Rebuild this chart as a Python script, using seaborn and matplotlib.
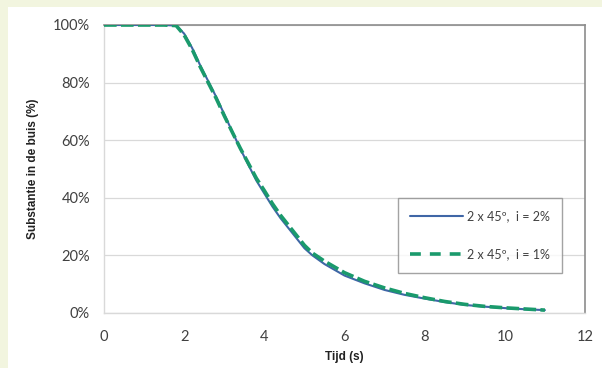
import matplotlib
matplotlib.use("Agg")
import matplotlib.pyplot as plt
import matplotlib.patches as mpatches
from matplotlib.ticker import FuncFormatter
import seaborn as sns
import pandas as pd

# ---- data ----
time_s = [0, 0.5, 1.0, 1.5, 1.8, 2.0, 2.2, 2.4, 2.6, 2.8, 3.0, 3.2, 3.4, 3.6, 3.8,
          4.0, 4.2, 4.4, 4.6, 4.8, 5.0, 5.2, 5.5, 6.0, 6.5, 7.0, 7.5, 8.0, 8.5,
          9.0, 9.5, 10.0, 10.5, 11.0]
subst_i2 = [100, 100, 100, 100, 99.8, 97, 92, 86, 80.5, 75, 69, 63, 57, 51.5, 46,
            41.5, 37, 33, 29.5, 26, 22.5, 20, 17, 13, 10.3, 8, 6.3, 5, 3.8,
            2.8, 2.2, 1.7, 1.3, 1.0]
subst_i1 = [100, 100, 100, 100, 99.8, 96.5, 91.5, 85.5, 80, 74.5, 68.5, 62.8, 57.2, 52, 46.8,
            42.5, 38, 34, 30.5, 27, 23.5, 20.8, 18, 14, 11, 8.7, 6.8, 5.3, 4.0,
            3.0, 2.3, 1.8, 1.4, 1.0]
series_labels = ["2 x 45º,  i = 2%", "2 x 45º,  i = 1%"]
x_ticks = [0, 2, 4, 6, 8, 10, 12]
y_ticks = [0, 20, 40, 60, 80, 100]

df = pd.concat([
    pd.DataFrame({"t": time_s, "v": subst_i2, "serie": series_labels[0]}),
    pd.DataFrame({"t": time_s, "v": subst_i1, "serie": series_labels[1]}),
])

sns.set_theme(style="white")
plt.rcParams["font.family"] = ["Lato", "DejaVu Sans"]

fig = plt.figure(figsize=(6.02, 3.68), dpi=100)
fig.patch.set_facecolor("#f2f5df")
fig.patches.append(mpatches.Rectangle((8 / 602, 0), 1, (368 - 7) / 368,
                                      transform=fig.transFigure, facecolor="white",
                                      edgecolor="none", zorder=-5))
ax = fig.add_axes([104 / 602, 55 / 368, 481 / 602, 288 / 368])
ax.set_zorder(2)
ax.set_facecolor("white")

blue = "#3f66a6"
green = "#1a9a6c"
sns.lineplot(data=df[df.serie == series_labels[0]], x="t", y="v", ax=ax,
             color=blue, linewidth=1.5, label=series_labels[0], zorder=3)
sns.lineplot(data=df[df.serie == series_labels[1]], x="t", y="v", ax=ax,
             color=green, linewidth=2.6, label=series_labels[1], zorder=4)
ax.lines[1].set_dashes([3.5, 1.2])

ax.set_xlim(0, 12)
ax.set_ylim(0, 100)
ax.set_xticks(x_ticks)
ax.set_yticks(y_ticks)
ax.yaxis.set_major_formatter(FuncFormatter(lambda v, p: f"{int(v)}%"))
ax.tick_params(axis="both", length=0, labelsize=10.5, colors="#404040")
ax.tick_params(axis="x", pad=12)
ax.tick_params(axis="y", pad=10)
ax.grid(axis="y", color="#d9d9d9", linewidth=0.9)
ax.grid(axis="x", visible=False)

for s in ["top", "right"]:
    ax.spines[s].set_color("#8c8c8c")
    ax.spines[s].set_linewidth(1.2)
for s in ["left", "bottom"]:
    ax.spines[s].set_color("#d9d9d9")
    ax.spines[s].set_linewidth(1.0)

ax.set_xlabel("Tijd (s)", fontsize=8.5, fontweight="bold", family="Liberation Sans",
              color="#222222", labelpad=5)
ax.set_ylabel("Substantie in de buis (%)", fontsize=8.5, fontweight="bold",
              family="Liberation Sans", color="#222222", labelpad=10)

leg = ax.legend(loc="upper left", bbox_to_anchor=(0.611, 0.40), fontsize=9,
                frameon=True, fancybox=False, handlelength=4.2, handletextpad=0.3,
                labelspacing=2.1, borderpad=1.0, borderaxespad=0)
leg.get_frame().set_edgecolor("#8c8c8c")
leg.get_frame().set_linewidth(1.0)
leg.get_lines()[1].set_dashes([3, 2.5])
for t in leg.get_texts():
    t.set_color("#404040")

fig.savefig("out.png", dpi=100, facecolor=fig.get_facecolor())
